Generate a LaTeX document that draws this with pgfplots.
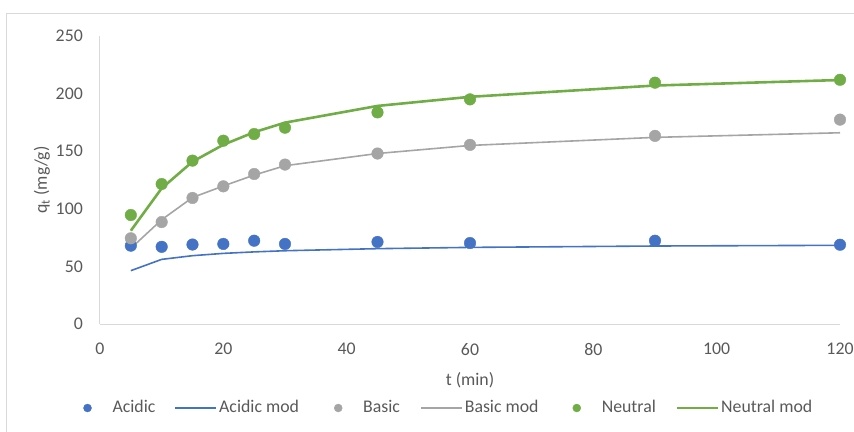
\documentclass[border=0pt]{standalone}
\usepackage{pgfplots}
\pgfplotsset{compat=1.18}
\usepackage{fontspec}
\setmainfont{Carlito}
\definecolor{cblue}{HTML}{4472C4}
\definecolor{cgray}{HTML}{A5A5A5}
\definecolor{cgreen}{HTML}{70AD47}
\definecolor{ctext}{HTML}{595959}
\definecolor{cline}{HTML}{D9D9D9}
\begin{document}
\begin{tikzpicture}
\fontsize{17.8bp}{21bp}\selectfont
\path[use as bounding box] (-100bp,-108bp) rectangle (754bp,324bp);
\draw[cline, line width=1bp] (-93bp,-108bp) -- (-93bp,310bp) -- (754bp,310bp);
\begin{axis}[
  at={(0,0)}, anchor=south west,
  scale only axis, width=740bp, height=288bp,
  xmin=0, xmax=120, ymin=0, ymax=250,
  xtick={0,20,...,120}, ytick={0,50,...,250},
  axis x line=bottom, axis y line=left,
  axis line style={draw=cline, line width=1bp, -},
  major tick length=0pt,
  tick label style={font=\fontsize{17.8bp}{21bp}\selectfont, text=ctext, inner sep=0pt},
  /pgf/number format/assume math mode=true,
  yticklabel style={anchor=east, xshift=-17bp},
  xticklabel style={anchor=north, yshift=-19bp},
  xlabel={t (min)}, ylabel={q\textsubscript{t} (mg/g)},
  label style={font=\fontsize{17.8bp}{21bp}\selectfont, text=ctext},
  xlabel style={at={(axis description cs:0.5,-0.1944)}, anchor=center},
  ylabel style={at={(axis description cs:-0.0784,0.5)}, anchor=center},
  clip=false,
  legend columns=6,
  legend style={draw=none, fill=none, at={(axis description cs:0.470,-0.2917)}, anchor=center,
    font=\fontsize{17.8bp}{21bp}\selectfont, text=ctext,
    nodes={inner sep=0pt},
    /tikz/column 2/.style={column sep=19bp},
    /tikz/column 4/.style={column sep=35bp},
    /tikz/column 6/.style={column sep=20bp},
    /tikz/column 8/.style={column sep=34bp},
    /tikz/column 10/.style={column sep=20bp}},
  markleg/.style={legend image code/.code={\path[draw=none,fill=none] (-4bp,0) -- (25bp,0); \fill[##1] (0,0) circle (4bp);}},
  lineleg/.style={legend image code/.code={\path[draw=none,fill=none] (0,0) -- (44bp,0); \draw[##1] (0cm,0cm) -- (41bp,0cm);}},
]
\addplot[cblue, only marks, mark=*, mark size=5.8bp, mark options={draw=none, fill=cblue}, markleg] coordinates {
(5,68) (10,67) (15,69) (20,69.5) (25,72.3) (30,69.5) (45,71.2) (60,70.3) (90,72.3) (120,68.8)};
\addlegendentry{Acidic}
\addplot[cblue, line width=1.6bp, no marks, lineleg] coordinates {
(5,46.3) (10,56.1) (15,59.3) (20,61.3) (25,62.6) (30,63.6) (45,65.4) (60,66.5) (90,67.7) (120,68.3)};
\addlegendentry{Acidic mod}
\addplot[cgray, only marks, mark=*, mark size=5.8bp, mark options={draw=none, fill=cgray}, markleg] coordinates {
(5,74.4) (10,88.5) (15,109.4) (20,119.5) (25,130.2) (30,138.4) (45,148) (60,155.5) (90,163.3) (120,177.4)};
\addlegendentry{Basic}
\addplot[cgray, line width=1.6bp, no marks, lineleg] coordinates {
(5,65.7) (10,90.5) (15,109.8) (20,119.8) (25,129.3) (30,137.4) (45,148) (60,155) (90,162) (120,166)};
\addlegendentry{Basic mod}
\addplot[cgreen, only marks, mark=*, mark size=5.8bp, mark options={draw=none, fill=cgreen}, markleg] coordinates {
(5,94.6) (10,121.5) (15,141.8) (20,159.1) (25,164.9) (30,170.4) (45,183.7) (60,195) (90,209.5) (120,212)};
\addlegendentry{Neutral}
\addplot[cgreen, line width=2.6bp, no marks, lineleg] coordinates {
(5,81) (10,117.8) (15,140.9) (20,155.6) (25,166.5) (30,174.8) (45,189.3) (60,197.2) (90,207) (120,211.8)};
\addlegendentry{Neutral mod}
\end{axis}
\end{tikzpicture}
\end{document}
